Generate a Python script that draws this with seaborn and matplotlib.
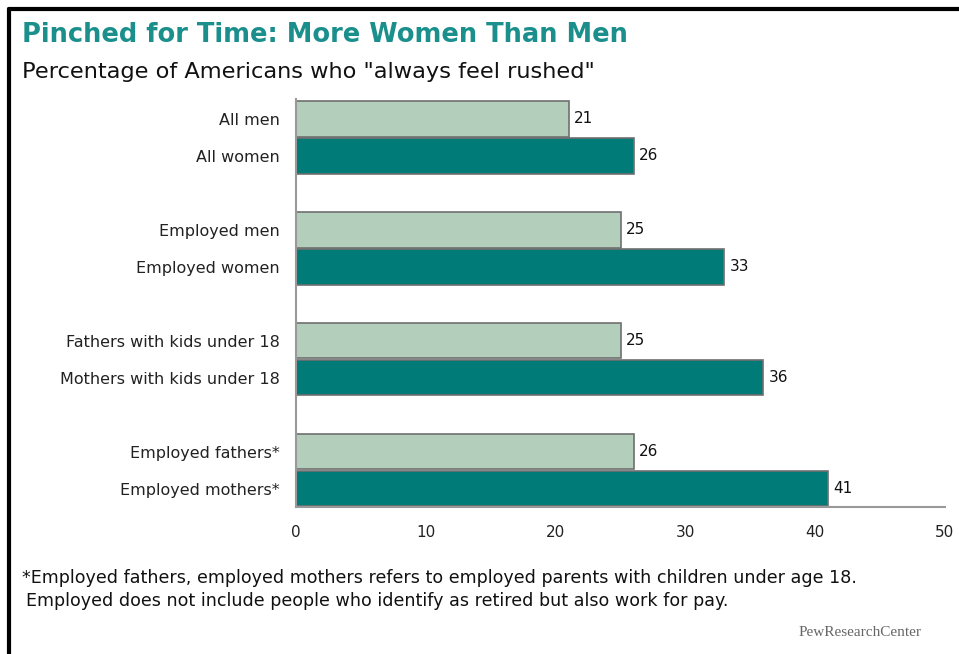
import pandas as pd
import matplotlib.pyplot as plt
import seaborn as sns
from matplotlib.lines import Line2D

# data
categories = ["All men", "All women",
              "Employed men", "Employed women",
              "Fathers with kids under 18", "Mothers with kids under 18",
              "Employed fathers*", "Employed mothers*"]
values = [21, 26, 25, 33, 25, 36, 26, 41]
sex = ["Men", "Women"] * 4
positions = [0, 1, 3, 4, 6, 7, 9, 10]

df = pd.DataFrame({"cat": categories, "val": values, "sex": sex, "pos": positions})

sns.set_theme(style="white")
plt.rcParams['font.family'] = ['DejaVu Sans']

fig = plt.figure(figsize=(9.59, 6.54), dpi=100)
ax = fig.add_axes([0.3087, 0.2248, 0.6767, 0.6238])

palette = {"Men": "#b3cfbc", "Women": "#007b78"}
sns.barplot(data=df, x="val", y="pos", hue="sex", orient="h", native_scale=True,
            palette=palette, saturation=1, dodge=False, width=0.95,
            edgecolor="#6f6f6f", linewidth=1.2, legend=False, ax=ax)

for c in ax.containers:
    ax.bar_label(c, padding=4, fontsize=11, color="#111111")

ax.set_xlim(0, 50)
ax.set_ylim(10.49, -0.54)
ax.set_xticks([0, 10, 20, 30, 40, 50])
ax.set_yticks(positions)
ax.set_yticklabels(categories, fontsize=11.5, color="#222222")
ax.tick_params(axis="x", labelsize=11, colors="#222222", length=3, width=1,
               color="#999999", direction="out", pad=10)
ax.tick_params(axis="y", length=0, pad=12)
ax.set_xlabel("")
ax.set_ylabel("")
for s in ["top", "right"]:
    ax.spines[s].set_visible(False)
for s in ["left", "bottom"]:
    ax.spines[s].set_color("#999999")
    ax.spines[s].set_linewidth(1.5)

# titles
fig.text(22/959, 1 - 42/654, "Pinched for Time: More Women Than Men", fontsize=18.5,
         fontweight="bold", color="#1a8f8c", va="baseline")
fig.text(22/959, 1 - 78/654, "Percentage of Americans who \"always feel rushed\"",
         fontsize=16.2, color="#111111", va="baseline")

# footnote
fig.text(22/959, 1 - 583/654,
         "*Employed fathers, employed mothers refers to employed parents with children under age 18.",
         fontsize=12.6, color="#111111", va="baseline")
fig.text(26/959, 1 - 606/654,
         "Employed does not include people who identify as retired but also work for pay.",
         fontsize=12.6, color="#111111", va="baseline")
fig.text(922/959, 1 - 636/654, "PewResearchCenter", fontsize=11, color="#666666",
         family="Liberation Serif", ha="right", va="baseline")

# frame lines top and left
fig.add_artist(Line2D([9/959, 1], [1 - 9/654, 1 - 9/654], color="black", linewidth=3,
                      transform=fig.transFigure))
fig.add_artist(Line2D([9/959, 9/959], [0, 1 - 9/654], color="black", linewidth=3,
                      transform=fig.transFigure))

fig.savefig("out.png", dpi=100)
